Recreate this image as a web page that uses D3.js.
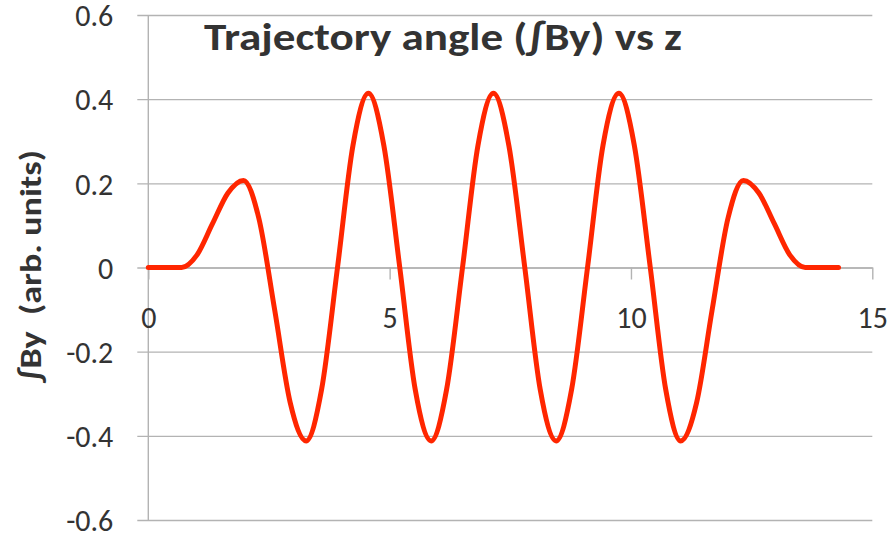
<!DOCTYPE html>
<html>
<head>
<meta charset="utf-8">
<script src="https://cdn.jsdelivr.net/npm/d3@7"></script>
<style>
    body { margin: 0; background: #fff; }
    svg { display: block; }
    text { font-family: Carlito, Lato, "Open Sans", sans-serif; fill: #333; }
</style>
</head>
<body>
<div id="chart"></div>
<script>
(function()
{
    // z position along the undulator
    var zValues = [0, 0.35, 0.69, 1.01, 1.33, 1.65, 1.97,
        2.29, 2.62, 2.94, 3.27,
        3.59, 3.92, 4.24, 4.56,
        4.88, 5.21, 5.53, 5.86,
        6.18, 6.51, 6.83, 7.15,
        7.47, 7.80, 8.12, 8.45,
        8.77, 9.10, 9.42, 9.75,
        10.07, 10.40, 10.72, 11.03,
        11.36, 11.68, 12.01, 12.33,
        12.65, 12.97, 13.29, 13.61, 13.95, 14.3];
    // integral of By (arb. units)
    var angleValues = [0, 0, 0, 0.03, 0.104, 0.177, 0.207,
        0.117, -0.102, -0.321, -0.412,
        -0.29, 0, 0.29, 0.414,
        0.29, 0, -0.29, -0.412,
        -0.29, 0, 0.29, 0.414,
        0.29, 0, -0.29, -0.412,
        -0.29, 0, 0.29, 0.414,
        0.29, 0, -0.29, -0.412,
        -0.321, -0.102, 0.117, 0.207,
        0.177, 0.104, 0.03, 0, 0, 0];

    var xTicks = [0, 5, 10, 15];
    var yTicks = [-0.6, -0.4, -0.2, 0, 0.2, 0.4, 0.6];
    var title = "Trajectory angle (\u222BBy) vs z";
    var yTitle = "\u222BBy  (arb. units)";

    const WIDTH = 895;
    const HEIGHT = 541;
    var left = 148.3, right = 872.3, top = 15, bottom = 520;
    var gridColor = "#b3b3b3";

    var x = d3.scaleLinear().domain([0, 15]).range([left, right]);
    var y = d3.scaleLinear().domain([-0.6, 0.6]).range([bottom, top]);

    var svg = d3.select("#chart").append("svg")
        .attr("width", WIDTH)
        .attr("height", HEIGHT);

    // horizontal gridlines with outward ticks
    var yAxis = d3.axisLeft(y).tickValues(yTicks)
        .tickSize(-(right - left))
        .tickSizeOuter(0)
        .tickFormat(function(d) { return d === 0 ? "0" : d.toFixed(1); });
    var gy = svg.append("g").attr("transform", "translate(" + left + ",0)").call(yAxis);
    gy.select(".domain").remove();
    gy.selectAll(".tick line")
        .attr("x1", -11)
        .attr("stroke", gridColor)
        .attr("stroke-width", 1.4);
    gy.selectAll(".tick text")
        .attr("x", -35)
        .attr("dy", "0.36em")
        .attr("font-size", 30)
        .attr("fill", "#333");

    // vertical axis line
    svg.append("line")
        .attr("x1", left).attr("x2", left)
        .attr("y1", top).attr("y2", bottom)
        .attr("stroke", gridColor)
        .attr("stroke-width", 1.4);

    // x axis along y = 0
    var xAxis = d3.axisBottom(x).tickValues(xTicks).tickSize(12).tickSizeOuter(0);
    var gx = svg.append("g").attr("transform", "translate(0," + y(0) + ")").call(xAxis);
    gx.select(".domain").attr("stroke", gridColor).attr("stroke-width", 1.4);
    gx.selectAll(".tick line").attr("stroke", gridColor).attr("stroke-width", 1.4);
    gx.selectAll(".tick text")
        .attr("y", 60)
        .attr("dy", 0)
        .attr("font-size", 30)
        .attr("fill", "#333");

    var line = d3.line()
        .x(function(d, i) { return x(zValues[i]); })
        .y(function(d) { return y(d); })
        .curve(d3.curveMonotoneX);

    svg.append("path")
        .datum(angleValues)
        .attr("fill", "none")
        .attr("stroke", "#ff2600")
        .attr("stroke-width", 5)
        .attr("stroke-linecap", "round")
        .attr("stroke-linejoin", "round")
        .attr("d", line);

    svg.append("text")
        .attr("x", 443)
        .attr("y", 50)
        .attr("text-anchor", "middle")
        .attr("font-size", 38)
        .attr("font-weight", "bold")
        .attr("textLength", 478)
        .attr("lengthAdjust", "spacingAndGlyphs")
        .text(title);

    svg.append("text")
        .attr("transform", "translate(41,266) rotate(-90)")
        .attr("text-anchor", "middle")
        .attr("font-size", 31)
        .attr("font-weight", "bold")
        .attr("textLength", 232)
        .attr("lengthAdjust", "spacingAndGlyphs")
        .style("white-space", "pre")
        .text(yTitle);
})();
</script>
</body>
</html>
